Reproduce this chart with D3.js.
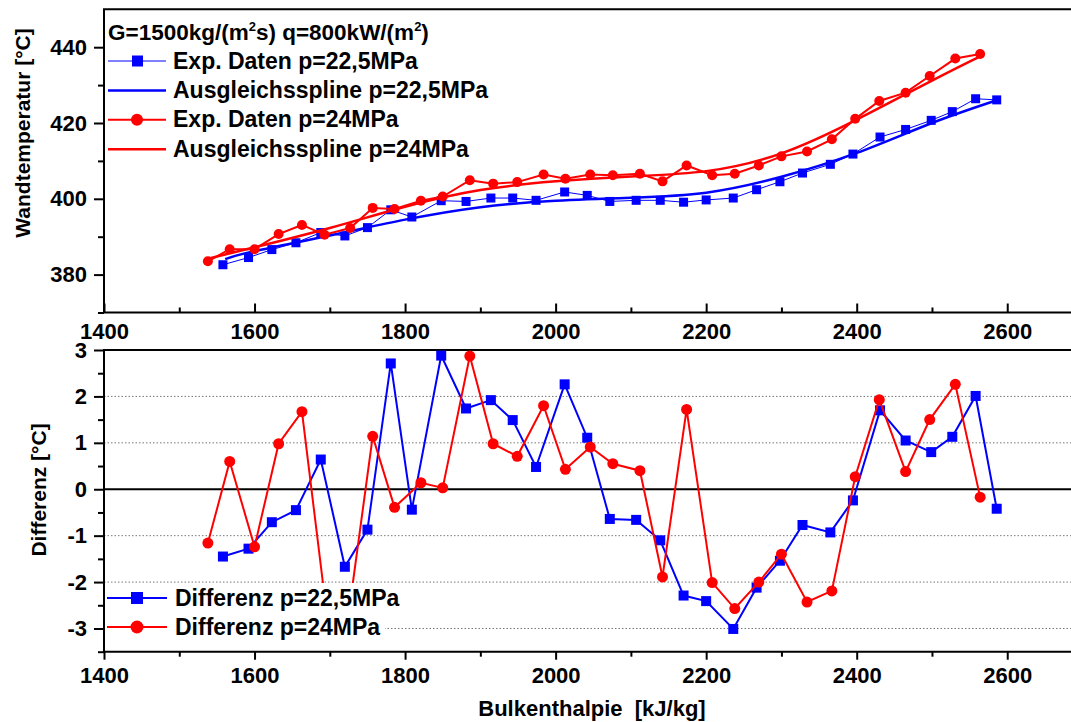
<!DOCTYPE html>
<html lang="de">
<head>
<meta charset="UTF-8" />
<title>Wandtemperatur und Differenz</title>
<script src="https://d3js.org/d3.v7.min.js"></script>
<style>
  body { margin: 0; background: #fff; }
  svg { display: block; font-family: "Liberation Sans", Arial, sans-serif; font-weight: bold; }
  .tick text { font-size: 22px; font-weight: bold; fill: #000; }
  .tick line { stroke: #000; stroke-width: 2px; }
  .frame { stroke: #000; stroke-width: 2px; fill: none; }
  .grid { stroke: #777; stroke-width: 1px; stroke-dasharray: 1.5 2; }
</style>
</head>
<body>
<div id="chart"></div>
<script>
// enthalpy values of the measuring points [kJ/kg]
const hBlue = [1558, 1592, 1623, 1655, 1688, 1720, 1750, 1781, 1809, 1848, 1881, 1914, 1943, 1974, 2012, 2042,
  2072, 2107, 2139, 2170, 2200, 2236, 2267, 2298, 2328, 2365, 2395, 2431, 2465, 2499, 2527, 2558, 2586];
const hRed = [1538, 1567, 1600, 1632, 1663, 1693, 1727, 1757, 1786, 1821, 1850, 1886, 1917, 1949, 1984, 2013,
  2046, 2076, 2112, 2142, 2174, 2208, 2238, 2270, 2300, 2334, 2367, 2398, 2430, 2465, 2497, 2531, 2564];

// wall temperature, experimental data [°C]
const tBlue = [382.6, 384.5, 386.6, 388.4, 391.1, 390.2, 392.4, 397.1, 395.2, 399.5, 399.3, 400.2, 400.2, 399.6, 401.8, 400.9,
  399.3, 399.6, 399.6, 399.1, 399.7, 400.2, 402.4, 404.5, 406.8, 409.1, 411.8, 416.3, 418.3, 420.7, 423.0, 426.4, 426.1];
const tRed = [383.5, 386.7, 386.7, 390.7, 393.1, 390.5, 392.3, 397.6, 397.3, 399.5, 400.6, 404.9, 404.0, 404.4, 406.4, 405.3,
  406.4, 406.2, 406.6, 404.6, 408.8, 406.2, 406.6, 408.8, 411.2, 412.5, 415.7, 421.1, 425.8, 428.0, 432.4, 437.0, 438.2];

// smoothing spline, read at a few enthalpies
const splineBlueH = [1561, 1600, 1700, 1800, 1900, 2000, 2100, 2200, 2300, 2400, 2500, 2586];
const splineBlueT = [384.1, 386.2, 390.3, 394.5, 397.8, 399.5, 400.3, 401.6, 405.8, 412.1, 420.0, 426.0];
const splineRedH = [1538, 1600, 1700, 1800, 1900, 2000, 2100, 2200, 2300, 2400, 2500, 2564];
const splineRedT = [384.2, 387.2, 392.3, 397.9, 402.3, 404.6, 405.9, 407.3, 412.0, 420.9, 431.2, 437.6];

// differences data - spline [°C]
const dBlue = [-1.45, -1.28, -0.71, -0.45, 0.64, -1.67, -0.87, 2.71, -0.44, 2.88, 1.74, 1.92, 1.49, 0.48, 2.26, 1.11,
  -0.64, -0.66, -1.10, -2.29, -2.41, -3.01, -2.12, -1.54, -0.77, -0.93, -0.24, 1.70, 1.05, 0.80, 1.13, 2.01, -0.42];
const dRed = [-1.16, 0.60, -1.24, 0.98, 1.67, -2.30, -2.45, 1.14, -0.39, 0.14, 0.03, 2.87, 0.98, 0.71, 1.80, 0.43,
  0.91, 0.55, 0.40, -1.89, 1.72, -2.01, -2.57, -2.00, -1.40, -2.43, -2.19, 0.27, 1.93, 0.38, 1.50, 2.26, -0.17];

const xTicks = [1400, 1600, 1800, 2000, 2200, 2400, 2600];
const xMinor = [1500, 1700, 1900, 2100, 2300, 2500];
const tTicks = [380, 400, 420, 440];
const tMinor = [370, 390, 410, 430];
const dTicks = [-3, -2, -1, 0, 1, 2, 3];
const dMinor = [-3.5, -2.5, -1.5, -0.5, 0.5, 1.5, 2.5];
const dGrid = [-3, -2, -1, 1, 2];

const width = 1071, height = 722;
const left = 104;

const svg = d3.select("#chart").append("svg")
  .attr("width", width).attr("height", height);

const x = d3.scaleLinear().domain([1400, 2700]).range([left, left + 1300 * 0.7527]);
const yT = d3.scaleLinear().domain([370, 450]).range([312.5, 9.3]);
const yD = d3.scaleLinear().domain([-3.5, 3]).range([651.7, 350]);

const blue = "#0000ff", red = "#ff0000";
const fmt = d => String(d); // plain hyphen for negatives, like the original

function zip(a, b) { return a.map((v, i) => [v, b[i]]); }

function axis(g, ax) {
  g.call(ax);
  g.select(".domain").remove();
}

// ---------- top panel ----------
const pTop = svg.append("g");

axis(pTop.append("g").attr("transform", `translate(${left},0)`),
  d3.axisLeft(yT).tickValues(tTicks).tickSize(10).tickPadding(7).tickFormat(fmt));
axis(pTop.append("g").attr("transform", `translate(${left},0)`),
  d3.axisLeft(yT).tickValues(tMinor).tickSize(6).tickFormat(""));
axis(pTop.append("g").attr("transform", `translate(0,${yT(370)})`),
  d3.axisBottom(x).tickValues(xTicks).tickSizeInner(-9).tickPadding(11).tickFormat(fmt));
axis(pTop.append("g").attr("transform", `translate(0,${yT(370)})`),
  d3.axisBottom(x).tickValues(xMinor).tickSizeInner(-5).tickFormat(""));

pTop.append("path").attr("class", "frame")
  .attr("d", `M${width},${yT(450)}H${left}V${yT(370)}H${width}`);

const lineT = d3.line().x(d => x(d[0])).y(d => yT(d[1]));
const splineT = d3.line().x(d => x(d[0])).y(d => yT(d[1])).curve(d3.curveNatural);

pTop.append("path").attr("d", lineT(zip(hBlue, tBlue)))
  .attr("fill", "none").attr("stroke", blue).attr("stroke-width", 1);
pTop.selectAll(".sqT").data(zip(hBlue, tBlue)).join("rect")
  .attr("x", d => x(d[0]) - 4.5).attr("y", d => yT(d[1]) - 4.5)
  .attr("width", 9).attr("height", 9).attr("fill", blue);
pTop.append("path").attr("d", splineT(zip(splineBlueH, splineBlueT)))
  .attr("fill", "none").attr("stroke", blue).attr("stroke-width", 2.5);

pTop.append("path").attr("d", lineT(zip(hRed, tRed)))
  .attr("fill", "none").attr("stroke", red).attr("stroke-width", 2);
pTop.selectAll(".ciT").data(zip(hRed, tRed)).join("circle")
  .attr("cx", d => x(d[0])).attr("cy", d => yT(d[1])).attr("r", 5).attr("fill", red);
pTop.append("path").attr("d", splineT(zip(splineRedH, splineRedT)))
  .attr("fill", "none").attr("stroke", red).attr("stroke-width", 2.5);

// legend top
const lg = pTop.append("g");
const title = lg.append("text").attr("x", 108).attr("y", 40).attr("font-size", 22.5);
title.append("tspan").text("G=1500kg/(m");
title.append("tspan").attr("dy", -9).attr("font-size", 13).text("2");
title.append("tspan").attr("dy", 9).text("s) q=800kW/(m");
title.append("tspan").attr("dy", -9).attr("font-size", 13).text("2");
title.append("tspan").attr("dy", 9).text(")");

const legendTop = [
  { label: "Exp. Daten p=22,5MPa", color: blue, w: 1, marker: "square" },
  { label: "Ausgleichsspline p=22,5MPa", color: blue, w: 2.5, marker: null },
  { label: "Exp. Daten p=24MPa", color: red, w: 2, marker: "circle" },
  { label: "Ausgleichsspline p=24MPa", color: red, w: 2.5, marker: null }
];
legendTop.forEach((d, i) => {
  const cy = 61 + i * 29.4;
  lg.append("line").attr("x1", 108).attr("x2", 166).attr("y1", cy).attr("y2", cy)
    .attr("stroke", d.color).attr("stroke-width", d.w);
  if (d.marker === "square")
    lg.append("rect").attr("x", 132).attr("y", cy - 5.5).attr("width", 11).attr("height", 11).attr("fill", d.color);
  if (d.marker === "circle")
    lg.append("circle").attr("cx", 137).attr("cy", cy).attr("r", 6).attr("fill", d.color);
  lg.append("text").attr("x", 173).attr("y", cy + 7.5).attr("font-size", 23).text(d.label);
});

// ---------- bottom panel ----------
const pBot = svg.append("g");

pBot.selectAll(".grid").data(dGrid).join("line").attr("class", "grid")
  .attr("x1", left).attr("x2", width).attr("y1", d => yD(d)).attr("y2", d => yD(d));
pBot.append("line").attr("x1", left).attr("x2", width).attr("y1", yD(0)).attr("y2", yD(0))
  .attr("stroke", "#000").attr("stroke-width", 2);

axis(pBot.append("g").attr("transform", `translate(${left},0)`),
  d3.axisLeft(yD).tickValues(dTicks).tickSize(10).tickPadding(7).tickFormat(fmt));
axis(pBot.append("g").attr("transform", `translate(${left},0)`),
  d3.axisLeft(yD).tickValues(dMinor).tickSize(6).tickFormat(""));
axis(pBot.append("g").attr("transform", `translate(0,${yD(-3.5)})`),
  d3.axisBottom(x).tickValues(xTicks).tickSize(8).tickPadding(8).tickFormat(fmt));
axis(pBot.append("g").attr("transform", `translate(0,${yD(-3.5)})`),
  d3.axisBottom(x).tickValues(xMinor).tickSize(5).tickFormat(""));

pBot.append("path").attr("class", "frame")
  .attr("d", `M${width},${yD(3)}H${left}V${yD(-3.5)}H${width}`);

const lineD = d3.line().x(d => x(d[0])).y(d => yD(d[1]));

pBot.append("path").attr("d", lineD(zip(hBlue, dBlue)))
  .attr("fill", "none").attr("stroke", blue).attr("stroke-width", 2);
pBot.selectAll(".sqD").data(zip(hBlue, dBlue)).join("rect")
  .attr("x", d => x(d[0]) - 5).attr("y", d => yD(d[1]) - 5)
  .attr("width", 10).attr("height", 10).attr("fill", blue);
pBot.append("path").attr("d", lineD(zip(hRed, dRed)))
  .attr("fill", "none").attr("stroke", red).attr("stroke-width", 2);
pBot.selectAll(".ciD").data(zip(hRed, dRed)).join("circle")
  .attr("cx", d => x(d[0])).attr("cy", d => yD(d[1])).attr("r", 5.5).attr("fill", red);

// legend bottom (white box hides what lies beneath)
const lb = pBot.append("g");
lb.append("rect").attr("x", left + 1).attr("y", 583).attr("width", 280).attr("height", 57).attr("fill", "#fff");
[
  { label: "Differenz p=22,5MPa", color: blue, marker: "square" },
  { label: "Differenz p=24MPa", color: red, marker: "circle" }
].forEach((d, i) => {
  const cy = 598 + i * 29;
  lb.append("line").attr("x1", 107).attr("x2", 167).attr("y1", cy).attr("y2", cy)
    .attr("stroke", d.color).attr("stroke-width", 2);
  if (d.marker === "square")
    lb.append("rect").attr("x", 131).attr("y", cy - 6).attr("width", 12).attr("height", 12).attr("fill", d.color);
  else
    lb.append("circle").attr("cx", 137).attr("cy", cy).attr("r", 6.5).attr("fill", d.color);
  lb.append("text").attr("x", 175).attr("y", cy + 8).attr("font-size", 23).text(d.label);
});

// axis titles
svg.append("text").attr("transform", "translate(30,133) rotate(-90)")
  .attr("text-anchor", "middle").attr("font-size", 21).text("Wandtemperatur [°C]");
svg.append("text").attr("transform", "translate(46,490) rotate(-90)")
  .attr("text-anchor", "middle").attr("font-size", 21).text("Differenz [°C]");
svg.append("text").attr("x", 592).attr("y", 716).attr("text-anchor", "middle")
  .attr("font-size", 22).style("white-space", "pre").text("Bulkenthalpie  [kJ/kg]");
</script>
</body>
</html>
